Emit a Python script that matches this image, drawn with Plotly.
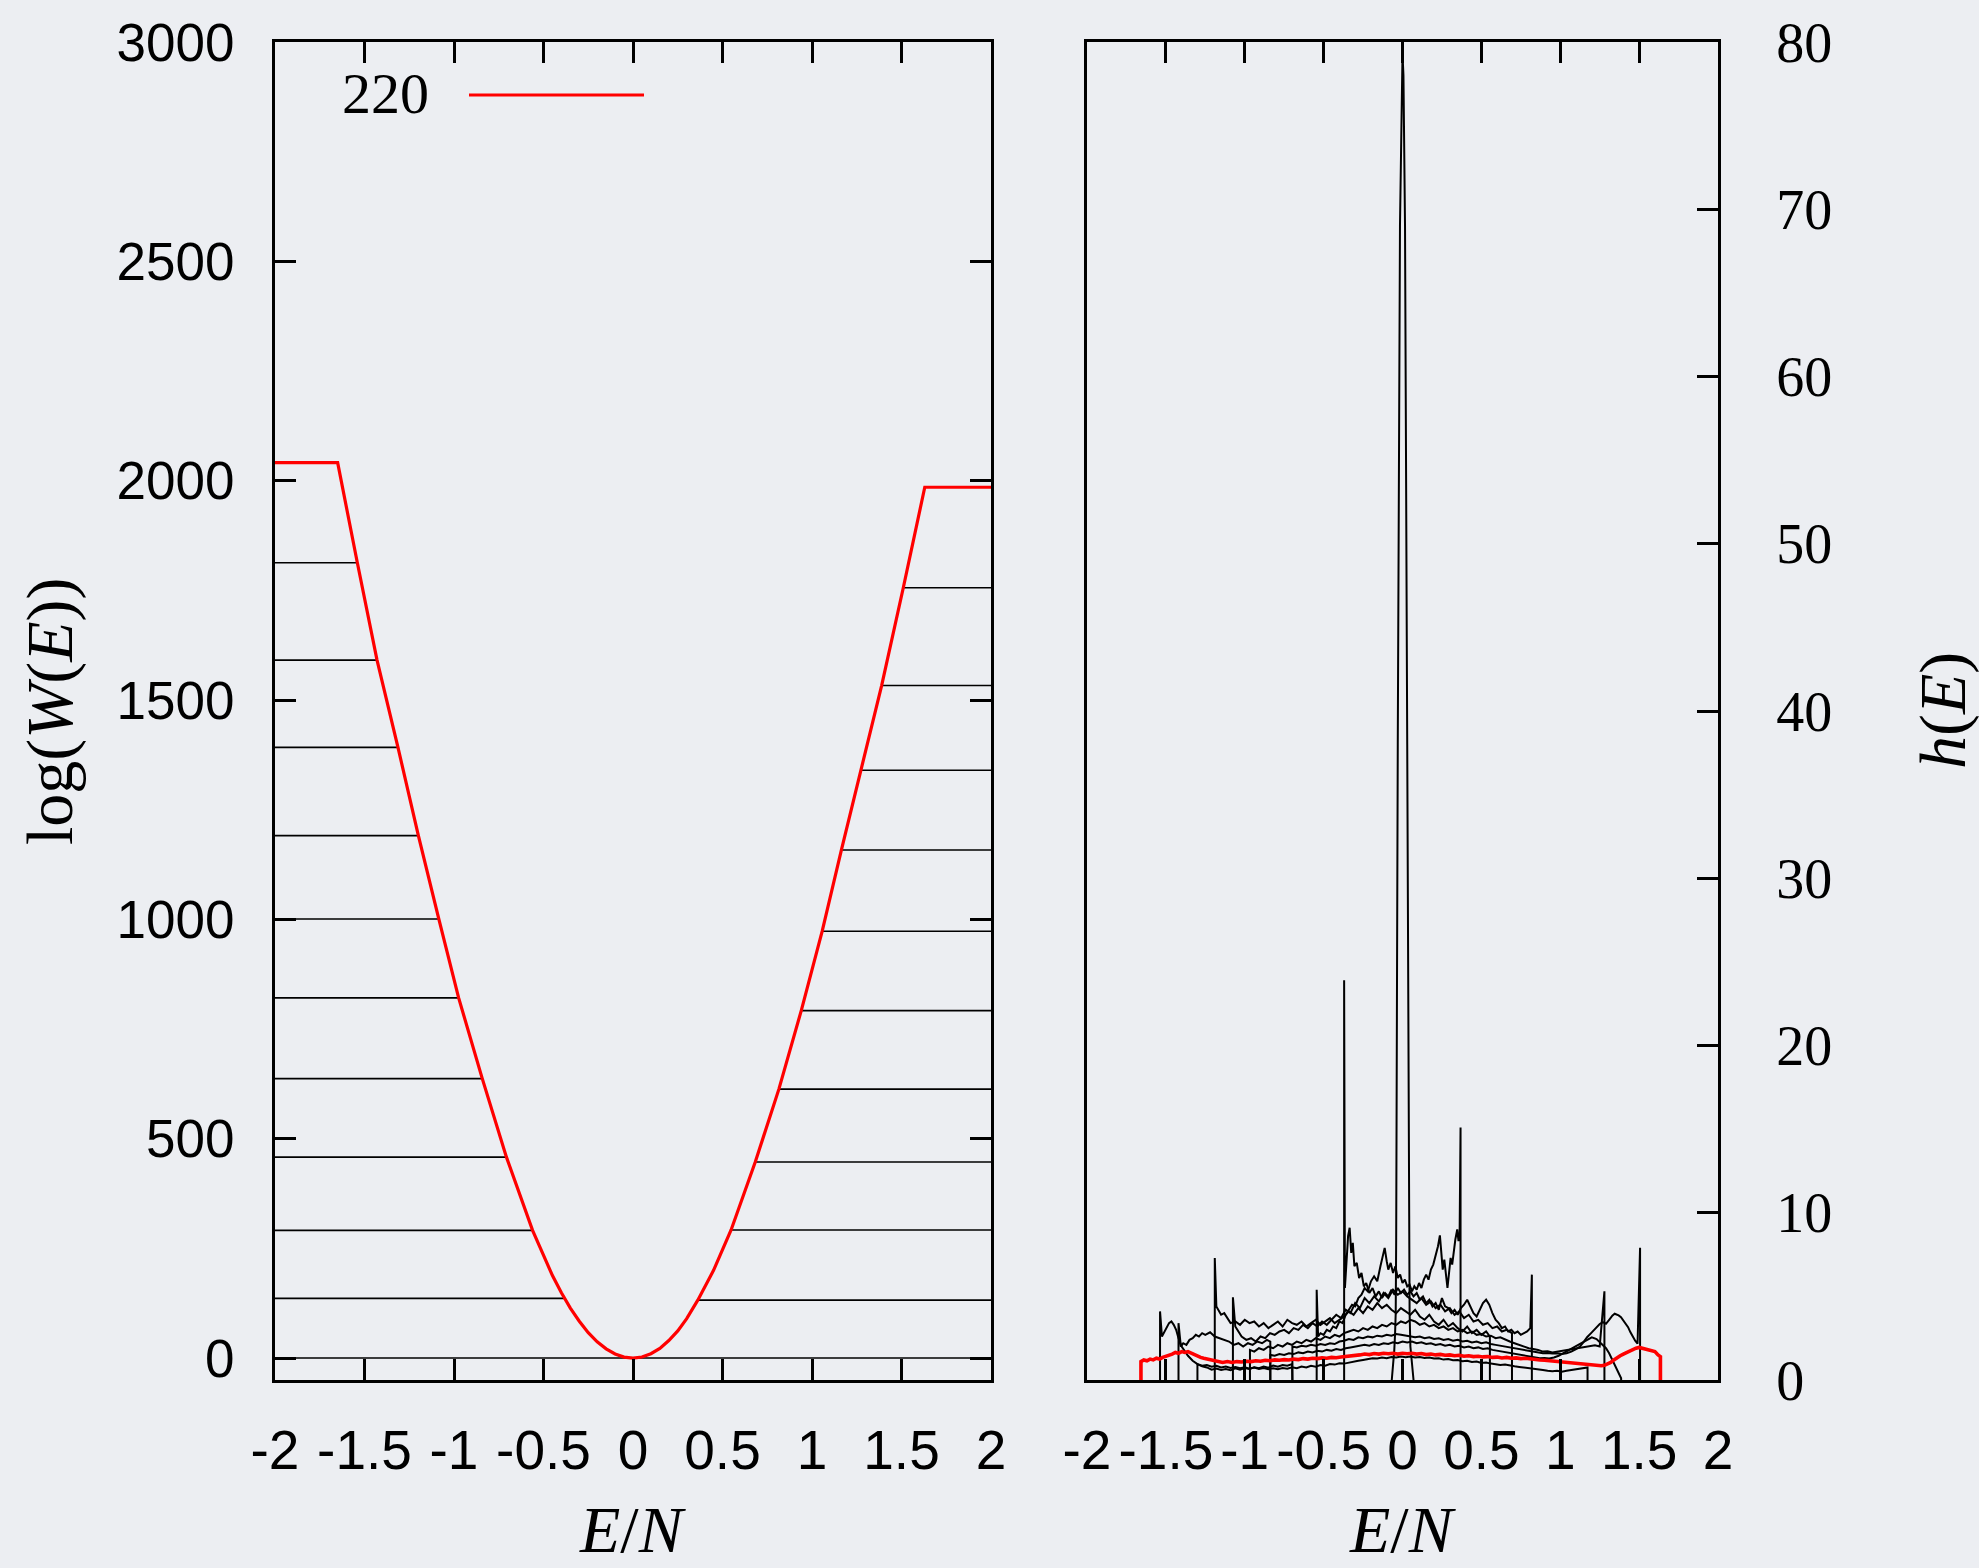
import plotly.graph_objects as go

# ---------------- data: left panel, log W(E) ----------------
E_W = [-2.0, -1.65, -1.54, -1.43, -1.313, -1.199, -1.085, -0.974, -0.842, -0.707,
       -0.561, -0.50, -0.45, -0.40, -0.35, -0.30, -0.25, -0.20, -0.15, -0.10, -0.05, 0.0,
       0.05, 0.10, 0.15, 0.20, 0.25, 0.30, 0.362, 0.45, 0.548, 0.683, 0.815, 0.94,
       1.057, 1.164, 1.271, 1.389, 1.51, 1.63, 2.0]
LOGW = [2041, 2041, 1813, 1591, 1392, 1191, 1001, 821, 637, 458,
        291, 232, 188, 149, 114, 84, 58, 37, 21, 9.3, 2.3, 0,
        2.5, 9.9, 22, 40, 62, 90, 132, 200, 292, 447, 613, 792,
        973, 1158, 1340, 1533, 1756, 1985, 1985]

LEFT_LEVELS = [1813, 1591, 1392, 1191, 1001, 821, 637, 458, 291, 136]
LEFT_LEVEL_E = [-1.54, -1.43, -1.313, -1.199, -1.085, -0.974, -0.842, -0.707, -0.561, -0.383]
RIGHT_LEVELS = [1756, 1533, 1340, 1158, 973, 792, 613, 447, 292, 132]
RIGHT_LEVEL_E = [1.51, 1.389, 1.271, 1.164, 1.057, 0.94, 0.815, 0.683, 0.548, 0.362]
ZERO_LEVEL = 0

LEGEND_LABEL = "220"

# ---------------- data: right panel, histograms h(E) ----------------
H_220 = [(-1.658, 0), (-1.658, 1.1), (-1.64, 1.2), (-1.62, 1.15), (-1.60, 1.25), (-1.58, 1.2),
         (-1.56, 1.3), (-1.54, 1.25), (-1.52, 1.35), (-1.50, 1.4), (-1.48, 1.5), (-1.46, 1.55),
         (-1.44, 1.65), (-1.42, 1.6), (-1.40, 1.7), (-1.38, 1.65), (-1.36, 1.7), (-1.34, 1.6),
         (-1.32, 1.5), (-1.30, 1.45), (-1.28, 1.35), (-1.26, 1.3), (-1.24, 1.25), (-1.22, 1.2),
         (-1.20, 1.15), (-1.17, 1.1), (-1.14, 1.05), (-1.11, 1.1), (-1.08, 1.05), (-1.05, 1.1),
         (-1.02, 1.08), (-0.99, 1.12), (-0.96, 1.1), (-0.93, 1.15), (-0.90, 1.12), (-0.87, 1.18),
         (-0.84, 1.15), (-0.81, 1.2), (-0.78, 1.18), (-0.75, 1.22), (-0.72, 1.2), (-0.69, 1.25),
         (-0.66, 1.22), (-0.63, 1.28), (-0.60, 1.25), (-0.57, 1.3), (-0.54, 1.28), (-0.51, 1.32),
         (-0.48, 1.3), (-0.45, 1.35), (-0.42, 1.33), (-0.39, 1.38), (-0.36, 1.4), (-0.33, 1.45),
         (-0.30, 1.48), (-0.27, 1.5), (-0.24, 1.55), (-0.21, 1.52), (-0.18, 1.58), (-0.15, 1.55),
         (-0.12, 1.6), (-0.09, 1.57), (-0.06, 1.6), (-0.03, 1.55), (0.0, 1.6), (0.03, 1.57),
         (0.06, 1.6), (0.09, 1.55), (0.12, 1.58), (0.15, 1.52), (0.18, 1.55), (0.21, 1.5),
         (0.24, 1.53), (0.27, 1.48), (0.30, 1.5), (0.33, 1.45), (0.36, 1.48), (0.39, 1.42),
         (0.42, 1.45), (0.45, 1.4), (0.48, 1.42), (0.51, 1.38), (0.54, 1.4), (0.57, 1.35),
         (0.60, 1.37), (0.63, 1.32), (0.66, 1.35), (0.69, 1.3), (0.72, 1.32), (0.75, 1.28),
         (0.78, 1.3), (0.81, 1.25), (0.84, 1.22), (0.87, 1.2), (0.90, 1.18), (0.93, 1.15),
         (0.96, 1.12), (0.99, 1.1), (1.02, 1.05), (1.05, 1.02), (1.08, 1.0), (1.11, 0.97),
         (1.14, 0.95), (1.17, 0.92), (1.20, 0.9), (1.23, 0.87), (1.26, 0.85), (1.28, 0.88),
         (1.30, 0.95), (1.32, 1.05), (1.34, 1.2), (1.36, 1.35), (1.38, 1.45), (1.40, 1.55),
         (1.42, 1.65), (1.44, 1.7), (1.46, 1.8), (1.48, 1.9), (1.50, 1.95), (1.52, 1.9),
         (1.54, 1.85), (1.56, 1.8), (1.58, 1.75), (1.60, 1.7), (1.62, 1.5), (1.635, 1.4), (1.635, 0)]

H_SPIKE = [(-0.068, 0), (-0.06, 0.8), (-0.052, 1.8), (-0.047, 2.8), (-0.043, 4.0), (-0.040, 8.5),
           (-0.037, 23), (-0.03, 38), (-0.016, 69), (-0.006, 78), (0.0, 79.3), (0.006, 78),
           (0.016, 69), (0.03, 38), (0.037, 23), (0.041, 9), (0.045, 4), (0.05, 2),
           (0.06, 0.7), (0.07, 0)]

H_W1 = [(-1.537, 0), (-1.537, 4.1), (-1.525, 2.6), (-1.51, 2.9), (-1.495, 3.2), (-1.48, 3.4),
        (-1.465, 3.5), (-1.45, 3.3), (-1.435, 3.0), (-1.42, 2.5), (-1.40, 2.0), (-1.38, 1.7),
        (-1.36, 1.45), (-1.33, 1.15), (-1.30, 0.95), (-1.27, 0.82), (-1.24, 0.75), (-1.21, 0.62),
        (-1.18, 0.68), (-1.15, 0.6), (-1.12, 0.66), (-1.09, 0.58), (-1.06, 0.7), (-1.03, 0.62),
        (-1.00, 0.72), (-0.97, 0.66), (-0.94, 0.76), (-0.91, 0.7), (-0.88, 0.8), (-0.85, 0.74),
        (-0.82, 0.86), (-0.79, 0.8), (-0.76, 0.9), (-0.73, 0.85), (-0.70, 0.95), (-0.698, 0)]

H_W2 = [(-1.42, 0), (-1.42, 3.4), (-1.405, 2.0), (-1.39, 2.2), (-1.37, 2.1), (-1.35, 2.4),
        (-1.33, 2.5), (-1.31, 2.7), (-1.29, 2.6), (-1.27, 2.8), (-1.25, 2.7), (-1.22, 2.85),
        (-1.19, 2.6), (-1.16, 2.5), (-1.13, 2.4), (-1.10, 2.3), (-1.07, 2.1), (-1.04, 2.2),
        (-1.01, 2.0), (-0.98, 2.2), (-0.95, 2.1), (-0.92, 2.3), (-0.89, 2.2), (-0.86, 2.4),
        (-0.838, 2.3), (-0.838, 0)]

H_W3 = [(-1.19, 0), (-1.19, 7.3), (-1.18, 4.4), (-1.165, 4.1), (-1.15, 3.9), (-1.13, 4.0),
        (-1.11, 3.7), (-1.09, 3.4), (-1.06, 3.5), (-1.03, 3.3), (-1.00, 3.6), (-0.97, 3.4),
        (-0.94, 3.5), (-0.91, 3.2), (-0.88, 3.4), (-0.85, 3.1), (-0.82, 3.3), (-0.79, 3.5),
        (-0.76, 3.2), (-0.73, 3.6), (-0.70, 3.4), (-0.67, 3.3), (-0.64, 3.5), (-0.61, 3.2),
        (-0.58, 3.4), (-0.55, 3.6), (-0.52, 3.3), (-0.49, 3.5), (-0.46, 3.7), (-0.43, 3.4),
        (-0.40, 3.6), (-0.37, 3.8), (-0.34, 4.1), (-0.31, 3.9), (-0.28, 4.3), (-0.25, 4.0),
        (-0.22, 4.4), (-0.19, 4.2), (-0.16, 4.6), (-0.13, 4.3), (-0.10, 4.5), (-0.07, 4.2),
        (-0.04, 4.0), (-0.01, 4.3), (0.02, 4.1), (0.05, 3.9), (0.08, 4.2), (0.11, 3.8),
        (0.14, 3.6), (0.17, 3.9), (0.20, 3.5), (0.23, 3.3), (0.26, 3.6), (0.29, 3.2),
        (0.32, 3.4), (0.35, 3.1), (0.38, 2.9), (0.41, 3.2), (0.44, 2.8), (0.47, 3.0),
        (0.50, 2.7), (0.53, 2.9), (0.554, 2.6), (0.554, 0)]

H_W4 = [(-1.075, 0), (-1.075, 4.95), (-1.06, 3.2), (-1.04, 2.9), (-1.02, 2.6), (-0.99, 2.4),
        (-0.96, 2.5), (-0.93, 2.3), (-0.90, 2.6), (-0.87, 2.5), (-0.84, 2.8), (-0.81, 2.7),
        (-0.78, 2.9), (-0.75, 3.0), (-0.72, 2.8), (-0.69, 3.1), (-0.66, 3.0), (-0.63, 3.3),
        (-0.60, 3.1), (-0.57, 3.4), (-0.54, 3.2), (-0.51, 3.5), (-0.48, 3.3), (-0.45, 3.6),
        (-0.42, 3.9), (-0.39, 3.7), (-0.36, 4.2), (-0.33, 4.0), (-0.30, 4.6), (-0.27, 4.3),
        (-0.24, 4.9), (-0.21, 4.6), (-0.18, 5.0), (-0.15, 4.7), (-0.12, 5.2), (-0.09, 4.9),
        (-0.06, 5.4), (-0.03, 5.1), (0.0, 5.3), (0.03, 5.0), (0.06, 4.8), (0.09, 4.6),
        (0.12, 4.9), (0.15, 4.5), (0.18, 4.7), (0.21, 4.3), (0.24, 4.5), (0.27, 4.1),
        (0.30, 4.3), (0.33, 3.9), (0.36, 4.1), (0.39, 3.7), (0.42, 3.9), (0.45, 3.5),
        (0.48, 3.6), (0.51, 3.3), (0.54, 3.4), (0.57, 3.1), (0.60, 3.2), (0.63, 2.9),
        (0.66, 3.0), (0.694, 2.8), (0.694, 0)]

H_W5 = [(-1.30, 0), (-1.30, 0.95), (-1.27, 0.85), (-1.24, 0.9), (-1.21, 0.8), (-1.18, 0.85),
        (-1.15, 0.75), (-1.12, 0.8), (-1.09, 0.72), (-1.06, 0.78), (-1.03, 0.7), (-1.00, 0.76),
        (-0.97, 0.68), (-0.94, 0.74), (-0.91, 0.66), (-0.88, 0.72), (-0.85, 0.65), (-0.82, 0.7),
        (-0.79, 0.64), (-0.76, 0.72), (-0.73, 0.68), (-0.70, 0.76), (-0.67, 0.7), (-0.64, 0.8),
        (-0.61, 0.75), (-0.58, 0.85), (-0.55, 0.8), (-0.52, 0.9), (-0.49, 0.86), (-0.46, 0.95),
        (-0.43, 0.92), (-0.40, 1.0), (-0.37, 0.98), (-0.34, 1.05), (-0.31, 1.1), (-0.28, 1.15),
        (-0.25, 1.2), (-0.22, 1.25), (-0.19, 1.3), (-0.16, 1.28), (-0.13, 1.35), (-0.10, 1.3),
        (-0.07, 1.38), (-0.04, 1.35), (-0.01, 1.4), (0.02, 1.36), (0.05, 1.4), (0.08, 1.35),
        (0.11, 1.38), (0.14, 1.32), (0.17, 1.35), (0.20, 1.28), (0.23, 1.3), (0.26, 1.22),
        (0.29, 1.25), (0.32, 1.18), (0.35, 1.2), (0.38, 1.12), (0.41, 1.15), (0.44, 1.08),
        (0.47, 1.1), (0.50, 1.02), (0.53, 1.05), (0.56, 0.98), (0.59, 0.95), (0.62, 0.9),
        (0.65, 0.92), (0.68, 0.85), (0.71, 0.82), (0.74, 0.78), (0.77, 0.75), (0.80, 0.7),
        (0.83, 0.68), (0.86, 0.62), (0.89, 0.6), (0.92, 0.55), (0.95, 0.52), (0.98, 0.55),
        (1.01, 0.5), (1.04, 0.55), (1.07, 0.6), (1.10, 0.65), (1.13, 0.7), (1.173, 0.75),
        (1.173, 0)]

H_W6 = [(-0.37, 0), (-0.37, 23.9), (-0.365, 5.5), (-0.355, 7.0), (-0.345, 8.6), (-0.335, 9.1),
        (-0.325, 7.6), (-0.315, 8.2), (-0.305, 6.8), (-0.29, 7.0), (-0.275, 6.1), (-0.26, 6.4),
        (-0.245, 5.6), (-0.23, 5.8), (-0.21, 5.2), (-0.19, 5.5), (-0.17, 5.0), (-0.15, 5.3),
        (-0.13, 4.9), (-0.11, 5.2), (-0.09, 5.0), (-0.07, 5.4), (-0.05, 5.1), (-0.03, 5.5),
        (-0.01, 5.2), (0.01, 5.4), (0.03, 5.1), (0.05, 5.3), (0.07, 5.0), (0.09, 5.2),
        (0.11, 4.8), (0.13, 5.0), (0.15, 4.6), (0.17, 4.8), (0.19, 4.4), (0.21, 4.6),
        (0.23, 4.2), (0.25, 4.9), (0.27, 4.4), (0.29, 4.3), (0.31, 4.0), (0.33, 4.2),
        (0.35, 3.9), (0.37, 4.3), (0.39, 4.5), (0.41, 4.8), (0.43, 4.4), (0.45, 4.0),
        (0.47, 3.8), (0.49, 4.2), (0.51, 4.6), (0.53, 4.8), (0.55, 4.5), (0.57, 4.0),
        (0.59, 3.6), (0.61, 3.4), (0.63, 3.1), (0.65, 3.2), (0.67, 2.9), (0.69, 3.0),
        (0.71, 2.8), (0.73, 2.9), (0.75, 2.7), (0.77, 2.8), (0.79, 2.9), (0.81, 3.1),
        (0.82, 6.3), (0.82, 0)]

H_W7 = [(-0.544, 0), (-0.544, 5.4), (-0.535, 2.6), (-0.52, 2.8), (-0.50, 2.7), (-0.48, 3.0),
        (-0.46, 2.9), (-0.44, 3.2), (-0.42, 3.1), (-0.40, 3.5), (-0.38, 3.4), (-0.36, 3.9),
        (-0.34, 4.2), (-0.32, 4.5), (-0.30, 4.4), (-0.28, 4.9), (-0.26, 5.1), (-0.24, 5.5),
        (-0.22, 5.3), (-0.20, 5.9), (-0.18, 6.2), (-0.16, 5.9), (-0.14, 6.8), (-0.125, 7.4),
        (-0.113, 7.9), (-0.10, 7.1), (-0.09, 6.6), (-0.075, 7.0), (-0.06, 6.4), (-0.045, 6.8),
        (-0.03, 6.1), (-0.015, 6.3), (0.0, 5.8), (0.015, 6.0), (0.03, 5.6), (0.045, 5.7),
        (0.06, 5.3), (0.075, 5.6), (0.09, 5.4), (0.105, 5.8), (0.12, 5.5), (0.135, 6.0),
        (0.15, 6.3), (0.165, 6.0), (0.18, 6.6), (0.195, 6.9), (0.21, 7.4), (0.225, 8.0),
        (0.237, 8.65), (0.245, 7.6), (0.255, 6.6), (0.265, 7.2), (0.275, 6.2), (0.285, 5.5),
        (0.295, 6.4), (0.305, 7.3), (0.315, 6.9), (0.325, 7.8), (0.335, 8.4), (0.347, 9.0),
        (0.355, 8.3), (0.362, 8.7), (0.368, 15.1), (0.368, 0)]

H_W8 = [(-0.967, 0), (-0.967, 1.8), (-0.94, 1.7), (-0.91, 1.9), (-0.88, 1.8), (-0.85, 2.0),
        (-0.82, 1.9), (-0.79, 2.1), (-0.76, 2.0), (-0.73, 2.2), (-0.70, 2.1), (-0.67, 2.3),
        (-0.64, 2.2), (-0.61, 2.4), (-0.58, 2.3), (-0.55, 2.5), (-0.52, 2.4), (-0.49, 2.6),
        (-0.46, 2.5), (-0.43, 2.7), (-0.40, 2.6), (-0.37, 2.8), (-0.34, 2.9), (-0.31, 3.0),
        (-0.28, 2.9), (-0.25, 3.1), (-0.22, 3.0), (-0.19, 3.2), (-0.16, 3.1), (-0.13, 3.3),
        (-0.10, 3.2), (-0.07, 3.4), (-0.04, 3.3), (-0.01, 3.5), (0.02, 3.4), (0.05, 3.6),
        (0.08, 3.5), (0.11, 3.3), (0.14, 3.4), (0.17, 3.2), (0.20, 3.3), (0.23, 3.1),
        (0.26, 3.2), (0.29, 3.0), (0.32, 3.1), (0.35, 2.9), (0.38, 3.0), (0.41, 2.8),
        (0.44, 2.9), (0.47, 2.7), (0.50, 2.75), (0.53, 2.6), (0.56, 2.65), (0.59, 2.5),
        (0.62, 2.55), (0.65, 2.4), (0.68, 2.3), (0.71, 2.2), (0.74, 2.1), (0.77, 2.0),
        (0.80, 1.9), (0.83, 1.85), (0.86, 1.8), (0.89, 1.7), (0.92, 1.72), (0.95, 1.65),
        (0.98, 1.7), (1.01, 1.75), (1.04, 1.8), (1.07, 1.85), (1.10, 1.9), (1.13, 1.95),
        (1.16, 2.0), (1.19, 2.05), (1.22, 2.07), (1.25, 2.0), (1.28, 5.3), (1.28, 0)]

H_W9 = [(-0.838, 0), (-0.838, 1.5), (-0.81, 1.45), (-0.78, 1.55), (-0.75, 1.5), (-0.72, 1.6),
        (-0.69, 1.55), (-0.66, 1.65), (-0.63, 1.6), (-0.60, 1.7), (-0.57, 1.65), (-0.54, 1.75),
        (-0.51, 1.7), (-0.48, 1.8), (-0.45, 1.75), (-0.42, 1.85), (-0.39, 1.8), (-0.36, 1.9),
        (-0.33, 1.95), (-0.30, 2.0), (-0.27, 2.05), (-0.24, 2.1), (-0.21, 2.05), (-0.18, 2.15),
        (-0.15, 2.1), (-0.12, 2.2), (-0.09, 2.15), (-0.06, 2.25), (-0.03, 2.2), (0.0, 2.3),
        (0.03, 2.25), (0.06, 2.3), (0.09, 2.2), (0.12, 2.25), (0.15, 2.15), (0.18, 2.2),
        (0.21, 2.1), (0.24, 2.15), (0.27, 2.05), (0.30, 2.1), (0.33, 2.0), (0.36, 2.05),
        (0.39, 1.95), (0.42, 2.0), (0.45, 1.9), (0.48, 1.95), (0.51, 1.85), (0.54, 1.9),
        (0.57, 1.8), (0.60, 1.75), (0.63, 1.7), (0.66, 1.65), (0.69, 1.6), (0.72, 1.55),
        (0.75, 1.5), (0.78, 1.45), (0.81, 1.4), (0.84, 1.35), (0.87, 1.3), (0.90, 1.32),
        (0.93, 1.28), (0.96, 1.35), (0.99, 1.45), (1.02, 1.6), (1.05, 1.75), (1.08, 1.9),
        (1.11, 2.05), (1.14, 2.2), (1.17, 2.4), (1.20, 2.55), (1.23, 2.45), (1.26, 2.2),
        (1.29, 1.9), (1.31, 1.6), (1.33, 1.2), (1.35, 0.9), (1.37, 0.5), (1.386, 0.1),
        (1.386, 0)]

H_W10 = [(-0.698, 0), (-0.698, 2.0), (-0.67, 1.95), (-0.64, 2.05), (-0.61, 2.0), (-0.58, 2.1),
         (-0.55, 2.05), (-0.52, 2.15), (-0.49, 2.1), (-0.46, 2.2), (-0.43, 2.15), (-0.40, 2.3),
         (-0.37, 2.35), (-0.34, 2.45), (-0.31, 2.4), (-0.28, 2.55), (-0.25, 2.5), (-0.22, 2.6),
         (-0.19, 2.55), (-0.16, 2.65), (-0.13, 2.6), (-0.10, 2.7), (-0.07, 2.65), (-0.04, 2.75),
         (-0.01, 2.7), (0.02, 2.65), (0.05, 2.6), (0.08, 2.55), (0.11, 2.6), (0.14, 2.5),
         (0.17, 2.55), (0.20, 2.45), (0.23, 2.5), (0.26, 2.4), (0.29, 2.45), (0.32, 2.35),
         (0.35, 2.4), (0.38, 2.3), (0.41, 2.35), (0.44, 2.25), (0.47, 2.3), (0.50, 2.2),
         (0.53, 2.25), (0.56, 2.15), (0.59, 2.1), (0.62, 2.05), (0.65, 2.0), (0.68, 1.95),
         (0.71, 1.9), (0.74, 1.85), (0.77, 1.8), (0.80, 1.75), (0.83, 1.7), (0.86, 1.65),
         (0.89, 1.6), (0.92, 1.62), (0.95, 1.58), (0.98, 1.6), (1.01, 1.55), (1.04, 1.6),
         (1.07, 1.7), (1.10, 1.85), (1.125, 2.0), (1.15, 2.3), (1.17, 2.56), (1.20, 2.85),
         (1.23, 3.16), (1.25, 3.35), (1.27, 3.46), (1.29, 3.36), (1.31, 3.6), (1.33, 3.85),
         (1.345, 3.96), (1.36, 3.9), (1.37, 3.86), (1.385, 3.75), (1.40, 3.56), (1.415, 3.35),
         (1.43, 3.16), (1.445, 2.85), (1.46, 2.56), (1.475, 2.35), (1.49, 2.17), (1.506, 7.9),
         (1.506, 0)]

BLACK_HISTS = [H_W1, H_W2, H_W3, H_W4, H_W5, H_W6, H_W7, H_W8, H_W9, H_W10, H_SPIKE]

X_TICKS = [-2, -1.5, -1, -0.5, 0, 0.5, 1, 1.5, 2]
X_TICK_TEXT = ["-2", "-1.5", "-1", "-0.5", "0", "0.5", "1", "1.5", "2"]
Y1_TICKS = [0, 500, 1000, 1500, 2000, 2500, 3000]
Y2_TICKS = [0, 10, 20, 30, 40, 50, 60, 70, 80]

# ---------------- figure ----------------
W, H = 1979, 1568
BG = "#eceef2"
SANS = "Liberation Sans"
SERIF = "Liberation Serif"

fig = go.Figure()

# level lines in left panel
lx, ly = [], []
for v, e in zip(LEFT_LEVELS, LEFT_LEVEL_E):
    lx += [X_TICKS[0], e, None]
    ly += [v, v, None]
for v, e in zip(RIGHT_LEVELS, RIGHT_LEVEL_E):
    lx += [e, X_TICKS[-1], None]
    ly += [v, v, None]
lx += [X_TICKS[0], X_TICKS[-1], None]
ly += [ZERO_LEVEL, ZERO_LEVEL, None]
fig.add_trace(go.Scatter(x=lx, y=ly, mode="lines", line=dict(color="black", width=1.6),
                         xaxis="x", yaxis="y", showlegend=False, hoverinfo="skip"))
fig.add_trace(go.Scatter(x=E_W, y=LOGW, mode="lines", line=dict(color="#ff0000", width=3.2),
                         xaxis="x", yaxis="y", name=LEGEND_LABEL, showlegend=False))

# histograms in right panel
for hist in BLACK_HISTS:
    fig.add_trace(go.Scatter(x=[p[0] for p in hist], y=[p[1] for p in hist], mode="lines",
                             line=dict(color="black", width=2.0), xaxis="x2", yaxis="y2",
                             showlegend=False, hoverinfo="skip"))
fig.add_trace(go.Scatter(x=[p[0] for p in H_220], y=[p[1] for p in H_220], mode="lines",
                         line=dict(color="#ff0000", width=3.6), xaxis="x2", yaxis="y2",
                         showlegend=False))

x1_dom = [275 / W, 991 / W]
x2_dom = [1087 / W, 1718 / W]
y_dom = [1 - 1380 / H, 1 - 42 / H]

common_x = dict(range=[-2, 2], tickmode="array", tickvals=X_TICKS, ticktext=X_TICK_TEXT,
                ticks="inside", ticklen=21, tickwidth=3, tickcolor="black",
                showline=True, linewidth=3, linecolor="black", mirror="allticks",
                showgrid=False, zeroline=False, tickangle=0, automargin=False,
                tickfont=dict(family=SANS, size=55, color="black"), ticklabelstandoff=20)

fig.update_layout(
    width=W, height=H, autosize=False,
    margin=dict(l=0, r=0, t=0, b=0, pad=0, autoexpand=False),
    paper_bgcolor=BG, plot_bgcolor=BG,
    showlegend=False,
    font=dict(family=SERIF, color="black"),
    xaxis=dict(domain=x1_dom, anchor="y", **common_x),
    yaxis=dict(domain=y_dom, anchor="x", range=[-50, 3000], tickmode="array", tickvals=Y1_TICKS,
               ticks="inside", ticklen=21, tickwidth=3, tickcolor="black",
               showline=True, linewidth=3, linecolor="black", mirror="allticks",
               showgrid=False, zeroline=False, automargin=False,
               tickfont=dict(family=SANS, size=53, color="black"), ticklabelstandoff=27),
    xaxis2=dict(domain=x2_dom, anchor="y2", **common_x),
    yaxis2=dict(domain=y_dom, anchor="x2", side="right", range=[0, 80], tickmode="array",
                tickvals=Y2_TICKS, ticks="inside", ticklen=21, tickwidth=3, tickcolor="black",
                showline=True, linewidth=3, linecolor="black", mirror=True,
                showgrid=False, zeroline=False, automargin=False,
                tickfont=dict(family=SERIF, size=56, color="black"), ticklabelstandoff=44),
)

TITLE_SIZE = 66
fig.add_annotation(text="<i>E</i>/<i>N</i>", xref="x domain", yref="paper", x=0.5, y=0,
                   xanchor="center", yanchor="bottom", showarrow=False,
                   font=dict(family=SERIF, size=TITLE_SIZE, color="black"))
fig.add_annotation(text="<i>E</i>/<i>N</i>", xref="x2 domain", yref="paper", x=0.5, y=0,
                   xanchor="center", yanchor="bottom", showarrow=False,
                   font=dict(family=SERIF, size=TITLE_SIZE, color="black"))
fig.add_annotation(text="log(<i>W</i>(<i>E</i>))", xref="paper", yref="y domain", x=50 / W, y=0.5,
                   xanchor="center", yanchor="middle", textangle=-90, showarrow=False,
                   font=dict(family=SERIF, size=TITLE_SIZE, color="black"))
fig.add_annotation(text="<i>h</i>(<i>E</i>)", xref="paper", yref="y2 domain", x=1943 / W, y=0.5,
                   xanchor="center", yanchor="middle", textangle=-90, showarrow=False,
                   font=dict(family=SERIF, size=TITLE_SIZE, color="black"))

# key (gnuplot style: label then line sample)
fig.add_annotation(text=LEGEND_LABEL, xref="paper", yref="paper", x=431 / W, y=1 - 93 / H,
                   xanchor="right", yanchor="middle", showarrow=False,
                   font=dict(family=SERIF, size=58, color="black"))
fig.add_shape(type="line", xref="x domain", yref="y domain",
              x0=(469 - 275) / 716, x1=(644 - 275) / 716, y0=(1380 - 95) / 1338, y1=(1380 - 95) / 1338,
              line=dict(color="#ff0000", width=3.2))

fig.write_html("out.html", post_script="document.body.style.margin='0';")
